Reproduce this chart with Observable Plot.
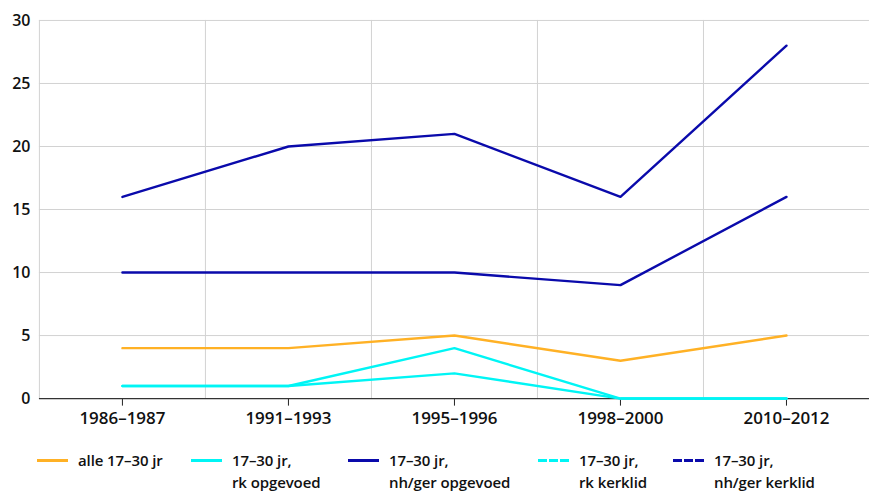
<!DOCTYPE html>
<html>
<head>
<meta charset="utf-8">
<script src="https://cdn.jsdelivr.net/npm/d3@7"></script>
<script src="https://cdn.jsdelivr.net/npm/@observablehq/plot@0.6"></script>
<style>
  html, body { margin: 0; padding: 0; background: #fff; }
  body { width: 869px; height: 493px; position: relative; font-family: "Open Sans", sans-serif; overflow: hidden; }
  #chart svg { display: block; }
  #legend { position: absolute; top: 449px; left: 0; width: 869px; height: 44px; }
  .item { position: absolute; top: 0; display: flex; align-items: flex-start; }
  .sw { width: 31px; height: 3px; margin-top: 10px; margin-right: 10px; }
  .lbl { font-size: 15px; font-weight: 600; line-height: 22px; color: #111; letter-spacing: -0.1px; }
</style>
</head>
<body>
<div id="chart"></div>
<div id="legend"></div>
<script>
const periods = ["1986–1987", "1991–1993", "1995–1996", "1998–2000", "2010–2012"];
const seriesNames = ["alle 17–30 jr", "17–30 jr,\nrk opgevoed", "17–30 jr,\nnh/ger opgevoed", "17–30 jr,\nrk kerklid", "17–30 jr,\nnh/ger kerklid"];
const seriesColors = ["#ffb125", "#00f5f5", "#0a0aab", "#00f5f5", "#0a0aab"];
const seriesDashed = [false, false, false, true, true];
const alle = [4, 4, 5, 3, 5];
const rkOpgevoed = [1, 1, 2, 0, 0];
const nhOpgevoed = [10, 10, 10, 9, 16];
const rkKerklid = [1, 1, 4, 0, 0];
const nhKerklid = [16, 20, 21, 16, 28];
const yTicks = [0, 5, 10, 15, 20, 25, 30];

const allSeries = [alle, rkOpgevoed, nhOpgevoed, rkKerklid, nhKerklid];
const rows = [];
allSeries.forEach((vals, s) => vals.forEach((v, i) => rows.push({series: seriesNames[s], idx: i, value: v})));
const idx = periods.map((_, i) => i);
const bounds = periods.map((_, i) => i - 0.5).concat([periods.length - 0.5]);

const plot = Plot.plot({
  width: 871,
  height: 430,
  marginLeft: 39,
  marginRight: 0,
  marginTop: 20,
  marginBottom: 31,
  style: {fontFamily: "Open Sans, sans-serif", fontSize: "15px", fontWeight: 600, color: "#111", background: "#fff"},
  x: {type: "linear", domain: [-0.5, periods.length - 0.5], axis: null},
  y: {domain: [0, 30], axis: null},
  color: {domain: seriesNames, range: seriesColors},
  marks: [
    Plot.ruleY(yTicks.filter(d => d > 0), {stroke: "#d2d2d2", strokeWidth: 1}),
    Plot.ruleX(bounds, {stroke: "#d2d2d2", strokeWidth: 1}),
    Plot.axisY({ticks: yTicks, tickSize: 0, tickPadding: 9, fontSize: 16, fontWeight: 600, textAnchor: "end", label: null}),
    Plot.ruleX(idx, {x: d => d, y1: 0, y2: -0.6, stroke: "#222", strokeWidth: 1}),
    Plot.ruleY([0], {stroke: "#333", strokeWidth: 1.3}),
    Plot.text(idx, {x: d => d, y: 0, dy: 20, text: d => periods[d], fontSize: 17, fontWeight: 600, fill: "#111"}),
    Plot.line(rows, {x: "idx", y: "value", z: "series", stroke: "series", strokeWidth: 2.4, strokeLinejoin: "round"})
  ]
});
document.getElementById("chart").appendChild(plot);

const lefts = [37, 191, 348, 538, 673];
const legend = document.getElementById("legend");
seriesNames.forEach((name, i) => {
  const it = document.createElement("div");
  it.className = "item";
  it.style.left = lefts[i] + "px";
  const sw = document.createElement("div");
  sw.className = "sw";
  const c = seriesColors[i];
  sw.style.background = seriesDashed[i]
    ? `repeating-linear-gradient(to right, ${c} 0 9px, transparent 9px 11px)`
    : c;
  const lb = document.createElement("div");
  lb.className = "lbl";
  lb.innerHTML = name.split("\n").join("<br>");
  it.appendChild(sw); it.appendChild(lb);
  legend.appendChild(it);
});
</script>
</body>
</html>
